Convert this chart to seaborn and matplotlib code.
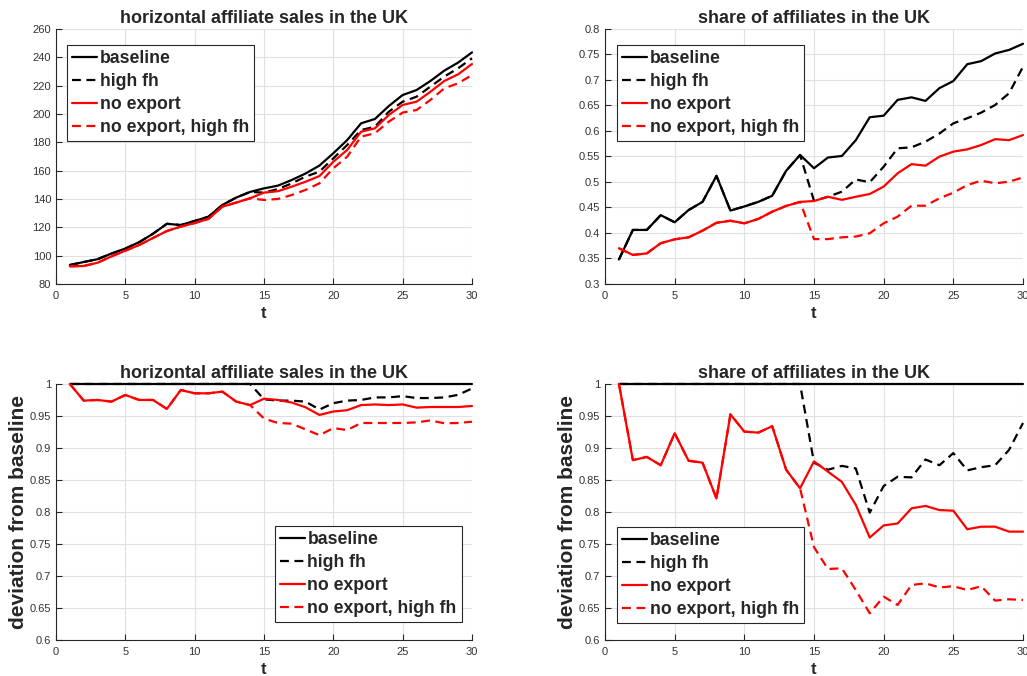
import numpy as np
import pandas as pd
import matplotlib.pyplot as plt
from matplotlib.lines import Line2D
from matplotlib.ticker import FormatStrFormatter
import seaborn as sns

# %%
t = list(range(1, 31))
scenarios = ["baseline", "high fh", "no export", "no export, high fh"]

# horizontal affiliate sales (levels)
sales_baseline = [93.4, 95.5, 97.5, 101.5, 105, 109.5, 115.5, 122.5, 121.6, 124.5,
                  127.5, 135.8, 141, 145, 147.5, 149.4, 153.4, 158, 163.6, 172.3,
                  181.6, 193.4, 196.5, 205.6, 213.4, 216.9, 223.3, 230.6, 236.3, 243.5]
sales_highfh = [93.4, 95.5, 97.5, 101.5, 105, 109.5, 115.5, 122.5, 121.6, 124.5,
                127.5, 135.8, 141, 145, 144.5, 147, 151, 155.8, 159.3, 168.7,
                178.1, 188.7, 191, 201.6, 208.7, 212.2, 219.3, 226.4, 232.3, 239.3]
sales_noexp = [92.5, 92.7, 95, 99.5, 103.5, 107.5, 112.5, 117.4, 120.5, 123,
               126, 134.6, 137.5, 140.5, 144.5, 145.5, 148.7, 152.2, 156.2, 166.3,
               174.6, 187.5, 189.9, 199.3, 206.4, 208.7, 215.7, 223.3, 228, 235.3]
sales_noexp_hfh = [92.5, 92.7, 95, 99.5, 103.5, 107.5, 112.5, 117.4, 120.5, 123,
                   126, 134.6, 137.5, 140.5, 139.3, 140, 142.8, 146.4, 151.1, 161.7,
                   169.9, 184, 186.4, 194.6, 201, 202.8, 209.9, 218.1, 221.7, 227.5]

# share of affiliates (levels)
share_baseline = [0.348, 0.406, 0.406, 0.435, 0.421, 0.445, 0.461, 0.512, 0.444, 0.452,
                  0.461, 0.473, 0.522, 0.553, 0.527, 0.548, 0.551, 0.582, 0.627, 0.630,
                  0.661, 0.666, 0.659, 0.684, 0.698, 0.731, 0.737, 0.752, 0.759, 0.771]
share_highfh = [0.348, 0.406, 0.406, 0.435, 0.421, 0.445, 0.461, 0.512, 0.444, 0.452,
                0.461, 0.473, 0.522, 0.553, 0.463, 0.471, 0.481, 0.505, 0.4995, 0.530,
                0.566, 0.568, 0.579, 0.595, 0.615, 0.625, 0.636, 0.651, 0.674, 0.726]
share_noexp = [0.370, 0.357, 0.360, 0.380, 0.3876, 0.3915, 0.4046, 0.420, 0.424, 0.419,
               0.4275, 0.4418, 0.453, 0.461, 0.4627, 0.471, 0.465, 0.471, 0.4765, 0.491,
               0.517, 0.535, 0.532, 0.5497, 0.5595, 0.564, 0.5725, 0.584, 0.582, 0.592]
share_noexp_hfh = [0.370, 0.357, 0.360, 0.380, 0.3876, 0.3915, 0.4046, 0.420, 0.424, 0.419,
                   0.4275, 0.4418, 0.453, 0.461, 0.388, 0.388, 0.3915, 0.393, 0.3994, 0.419,
                   0.432, 0.4535, 0.4535, 0.468, 0.479, 0.494, 0.5026, 0.4975, 0.5006, 0.509]

# sales, deviation from baseline
dsales_baseline = [1.0] * 30
dsales_highfh = [1, 1, 1, 1, 1, 1, 1, 1, 1, 1,
                 1, 1, 1, 1, 0.976, 0.974, 0.974, 0.9724, 0.960, 0.970,
                 0.974, 0.975, 0.979, 0.979, 0.981, 0.978, 0.978, 0.979, 0.983, 0.993]
dsales_noexp = [1, 0.974, 0.975, 0.9724, 0.9828, 0.975, 0.975, 0.961, 0.9906, 0.9854,
                0.9854, 0.988, 0.9724, 0.967, 0.977, 0.975, 0.971, 0.9635, 0.9516, 0.957,
                0.959, 0.967, 0.968, 0.967, 0.968, 0.963, 0.964, 0.964, 0.964, 0.9656]
dsales_noexp_hfh = [1, 0.974, 0.975, 0.9724, 0.9828, 0.975, 0.975, 0.961, 0.9906, 0.9854,
                    0.9854, 0.988, 0.9724, 0.967, 0.946, 0.939, 0.938, 0.929, 0.920, 0.931,
                    0.928, 0.939, 0.939, 0.939, 0.939, 0.940, 0.943, 0.9386, 0.939, 0.941]

# share, deviation from baseline
dshare_baseline = [1.0] * 30
dshare_highfh = [1, 1, 1, 1, 1, 1, 1, 1, 1, 1,
                 1, 1, 1, 1, 0.877, 0.866, 0.872, 0.868, 0.799, 0.8406,
                 0.855, 0.854, 0.882, 0.873, 0.892, 0.865, 0.870, 0.873, 0.897, 0.939]
dshare_noexp = [1, 0.881, 0.886, 0.873, 0.923, 0.880, 0.877, 0.821, 0.9526, 0.9255,
                0.924, 0.934, 0.866, 0.837, 0.879, 0.863, 0.847, 0.811, 0.760, 0.779,
                0.782, 0.8057, 0.8094, 0.803, 0.802, 0.773, 0.777, 0.777, 0.7693, 0.7693]
dshare_noexp_hfh = [1, 0.881, 0.886, 0.873, 0.923, 0.880, 0.877, 0.821, 0.9526, 0.9255,
                    0.924, 0.934, 0.866, 0.837, 0.745, 0.7109, 0.712, 0.678, 0.6417, 0.6677,
                    0.6547, 0.6859, 0.6885, 0.682, 0.684, 0.678, 0.684, 0.6615, 0.6636, 0.6625]

# %%
sns.set_style("ticks")
plt.rcParams["font.family"] = ["Liberation Sans", "DejaVu Sans"]

palette = {
  "baseline": "black",
  "high fh": "black",
  "no export": "#ff0000",
  "no export, high fh": "#ff0000",
}
dashes = {
  "baseline": "",
  "high fh": (4, 2.5),
  "no export": "",
  "no export, high fh": (4, 2.5),
}
lw = 1.6


def make_df(series):
  frames = []
  for name, vals in zip(scenarios, series):
    frames.append(pd.DataFrame({"t": t, "value": vals, "scenario": name}))
  return pd.concat(frames, ignore_index=True)


def draw(ax, df, ylim, ystep, title, ylabel, legend_loc, legend_anchor):
  sns.lineplot(
    data=df, x="t", y="value",
    hue="scenario", style="scenario",
    hue_order=scenarios, style_order=scenarios,
    palette=palette, dashes=dashes,
    linewidth=lw, estimator=None, sort=False,
    legend=False, clip_on=False, ax=ax,
  )
  ax.set_xlim(0, 30)
  ax.set_ylim(*ylim)
  ax.set_xticks(np.arange(0, 31, 5))
  ax.set_yticks(np.arange(ylim[0], ylim[1] + ystep / 2, ystep))
  ax.yaxis.set_major_formatter(FormatStrFormatter("%g"))
  ax.grid(True, color="#e0e0e0", linewidth=0.8)
  ax.set_axisbelow(True)
  for side in ["top", "right"]:
    ax.spines[side].set_visible(False)
  for side in ["left", "bottom"]:
    ax.spines[side].set_color("#262626")
    ax.spines[side].set_linewidth(0.8)
  ax.tick_params(direction="in", length=4, width=0.8, color="#262626",
                 labelsize=8, labelcolor="#333333")
  ax.tick_params(axis="x", pad=5)
  ax.tick_params(axis="y", pad=3.5)
  ax.set_title(title, fontsize=13, fontweight="bold", pad=4)
  ax.set_xlabel("t", fontsize=12, fontweight="bold", labelpad=3.5)
  ax.set_ylabel(ylabel, fontsize=15, fontweight="bold", labelpad=1)
  handles = [
    Line2D([], [], color=palette[s], linewidth=lw,
           linestyle="-" if dashes[s] == "" else (0, dashes[s]))
    for s in scenarios
  ]
  leg = ax.legend(
    handles, scenarios, loc=legend_loc, bbox_to_anchor=legend_anchor,
    borderaxespad=0, prop={"weight": "bold", "size": 12.7},
    frameon=True, fancybox=False, framealpha=1, edgecolor="#262626",
    handlelength=1.4, handletextpad=0.15, labelspacing=0.33, borderpad=0.3,
  )
  leg.get_frame().set_linewidth(0.8)


fig = plt.figure(figsize=(10.27, 6.76), dpi=100)
ax1 = fig.add_axes([0.0545, 0.5799, 0.4051, 0.3772])
ax2 = fig.add_axes([0.5891, 0.5799, 0.4070, 0.3772])
ax3 = fig.add_axes([0.0545, 0.0533, 0.4051, 0.3787])
ax4 = fig.add_axes([0.5891, 0.0533, 0.4070, 0.3787])

draw(ax1, make_df([sales_baseline, sales_highfh, sales_noexp, sales_noexp_hfh]),
     (80, 260), 20, "horizontal affiliate sales in the UK", "",
     "upper left", (0.0264, 0.937))
draw(ax2, make_df([share_baseline, share_highfh, share_noexp, share_noexp_hfh]),
     (0.3, 0.8), 0.05, "share of affiliates in the UK", "",
     "upper left", (0.0287, 0.937))
draw(ax3, make_df([dsales_baseline, dsales_highfh, dsales_noexp, dsales_noexp_hfh]),
     (0.6, 1.0), 0.05, "horizontal affiliate sales in the UK", "deviation from baseline",
     "lower right", (0.976, 0.070))
draw(ax4, make_df([dshare_baseline, dshare_highfh, dshare_noexp, dshare_noexp_hfh]),
     (0.6, 1.0), 0.05, "share of affiliates in the UK", "deviation from baseline",
     "lower left", (0.0287, 0.066))

plt.savefig("out.png", dpi=100)
